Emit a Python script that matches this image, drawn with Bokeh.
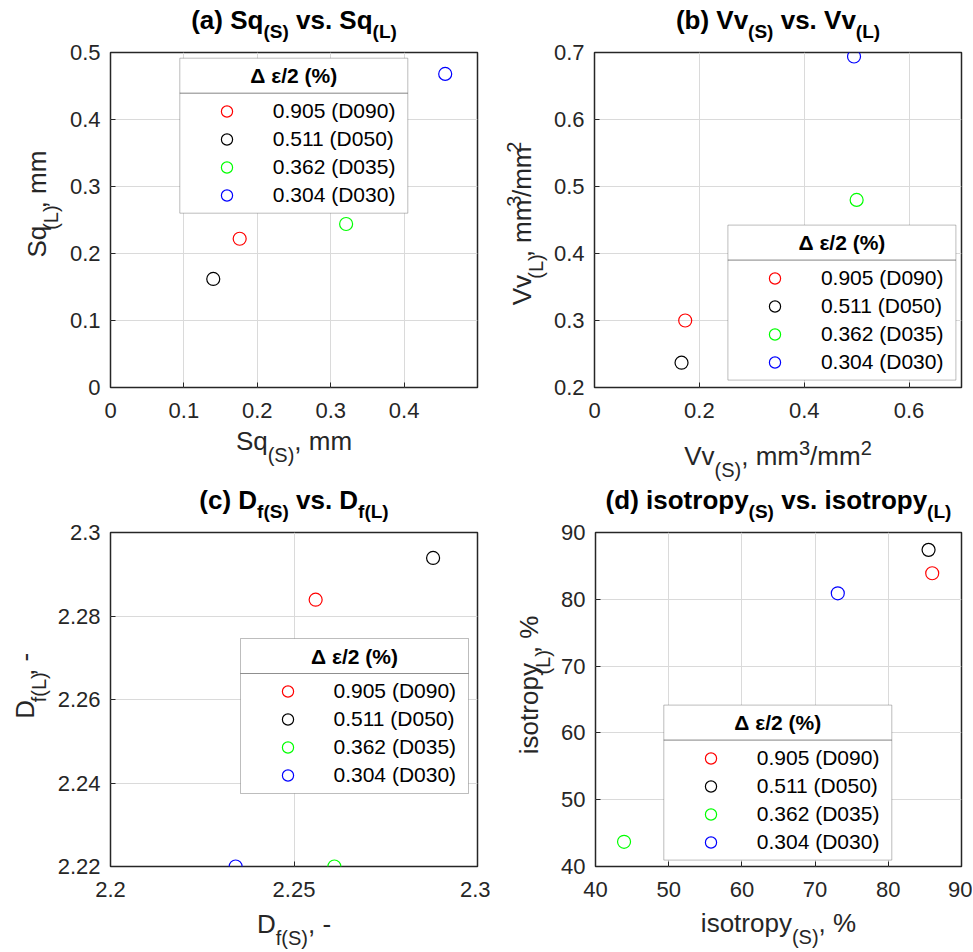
import math
from bokeh.plotting import figure
from bokeh.models import (Range1d, FixedTicker, Label, BoxAnnotation, Legend, LegendItem)
from bokeh.layouts import row, column
from bokeh.embed import file_html
from bokeh.resources import INLINE

# ---------------- data ----------------
series_labels = ["0.905 (D090)", "0.511 (D050)", "0.362 (D035)", "0.304 (D030)"]
series_colors = ["#ff0000", "#000000", "#00ff00", "#0000ff"]
legend_title = "\u0394 \u03b5/2 (%)"

sq_s = [0.176, 0.140, 0.321, 0.456]
sq_l = [0.222, 0.162, 0.244, 0.468]

vv_s = [0.173, 0.166, 0.500, 0.495]
vv_l = [0.300, 0.237, 0.480, 0.694]

df_s = [2.2559, 2.2879, 2.2610, 2.2341]
df_l = [2.2839, 2.2939, 2.2200, 2.2200]

iso_s = [86.0, 85.5, 43.9, 73.1]
iso_l = [83.9, 87.4, 43.7, 80.9]

a_xticks = [0, 0.1, 0.2, 0.3, 0.4]
a_xlabels = ["0", "0.1", "0.2", "0.3", "0.4"]
a_yticks = [0, 0.1, 0.2, 0.3, 0.4, 0.5]
a_ylabels = ["0", "0.1", "0.2", "0.3", "0.4", "0.5"]

b_xticks = [0, 0.2, 0.4, 0.6]
b_xlabels = ["0", "0.2", "0.4", "0.6"]
b_yticks = [0.2, 0.3, 0.4, 0.5, 0.6, 0.7]
b_ylabels = ["0.2", "0.3", "0.4", "0.5", "0.6", "0.7"]

c_xticks = [2.2, 2.25, 2.3]
c_xlabels = ["2.2", "2.25", "2.3"]
c_yticks = [2.22, 2.24, 2.26, 2.28, 2.3]
c_ylabels = ["2.22", "2.24", "2.26", "2.28", "2.3"]

d_xticks = [40, 50, 60, 70, 80, 90]
d_xlabels = ["40", "50", "60", "70", "80", "90"]
d_yticks = [40, 50, 60, 70, 80, 90]
d_ylabels = ["40", "50", "60", "70", "80", "90"]

# rich texts: (text, kind) kind: m = main, b = subscript, p = superscript
a_title = [("(a) Sq", "m"), ("(S)", "b"), (" vs. Sq", "m"), ("(L)", "b")]
a_xtitle = [("Sq", "m"), ("(S)", "b"), (", mm", "m")]
a_ytitle = [("Sq", "m"), ("(L)", "b"), (", mm", "m")]

b_title = [("(b) Vv", "m"), ("(S)", "b"), (" vs. Vv", "m"), ("(L)", "b")]
b_xtitle = [("Vv", "m"), ("(S)", "b"), (", mm", "m"), ("3", "p"), ("/mm", "m"), ("2", "p")]
b_ytitle = [("Vv", "m"), ("(L)", "b"), (", mm", "m"), ("3", "p"), ("/mm", "m"), ("2", "p")]

c_title = [("(c) D", "m"), ("f(S)", "b"), (" vs. D", "m"), ("f(L)", "b")]
c_xtitle = [("D", "m"), ("f(S)", "b"), (", -", "m")]
c_ytitle = [("D", "m"), ("f(L)", "b"), (", -", "m")]

d_title = [("(d) isotropy", "m"), ("(S)", "b"), (" vs. isotropy", "m"), ("(L)", "b")]
d_xtitle = [("isotropy", "m"), ("(S)", "b"), (", %", "m")]
d_ytitle = [("isotropy", "m"), ("(L)", "b"), (", %", "m")]

# ---------------- style ----------------
FONT = "Liberation Sans"
INK = "#262626"
GRID = "#dadada"
TICK_PX = "22px"
LEG_PX = 21
TITLE_MAIN, TITLE_SUB = 26, 19
LAB_MAIN, LAB_SUB = 26, 20
TITLE_DROP, LAB_DROP, SUP_RISE = 9, 12, 10
BASE_FIX = 0.33          # empirical baseline correction (fraction of font size)

REG = {' ': 278, '(': 333, ')': 333, ',': 278, '.': 278, '-': 333, '/': 278, '%': 889,
       'D': 722, 'L': 556, 'S': 667, 'V': 667, 'a': 556, 'b': 556, 'c': 500, 'd': 556,
       'e': 556, 'f': 278, 'i': 222, 'm': 833, 'n': 556, 'o': 556, 'p': 556, 'q': 556,
       'r': 333, 's': 500, 't': 278, 'v': 500, 'y': 500}
BOLD = {' ': 278, '(': 333, ')': 333, ',': 278, '.': 278, '-': 333, '/': 278, '%': 889,
        'D': 722, 'L': 611, 'S': 667, 'V': 667, 'a': 556, 'b': 611, 'c': 556, 'd': 611,
        'e': 556, 'f': 333, 'i': 278, 'm': 889, 'n': 611, 'o': 611, 'p': 611, 'q': 611,
        'r': 389, 's': 556, 't': 333, 'v': 556, 'y': 556}


def text_width(s, size, bold):
    t = BOLD if bold else REG
    return sum(t.get(ch, 556) for ch in s) * size / 1000.0


def strip(w, h):
    """Blank figure whose frame is the whole canvas; data units = pixels (y down)."""
    s = figure(width=w, height=h, output_backend="svg", toolbar_location=None,
               x_range=Range1d(0, w), y_range=Range1d(h, 0),
               min_border_left=0, min_border_right=0, min_border_top=0,
               min_border_bottom=0, x_axis_type=None, y_axis_type=None,
               background_fill_color="white", border_fill_color="white")
    s.outline_line_color = None
    s.grid.visible = False
    return s


def rich(fig, pieces, main, sub, drop, bold, color, cx=None, base_y=None,
         base_x=None, cy=None):
    widths = [text_width(t, main if k == "m" else sub, bold) for t, k in pieces]
    total = sum(widths)
    cum = 0.0
    for (t, k), w in zip(pieces, widths):
        size = main if k == "m" else sub
        lead = text_width(" " * (len(t) - len(t.lstrip(" "))), size, bold)
        shift = (0 if k == "m" else (drop if k == "b" else -SUP_RISE)) - BASE_FIX * size
        if base_x is None:
            px, py, ang = cx - total / 2 + cum + lead, base_y + shift, 0
        else:
            px, py, ang = base_x + shift, cy + total / 2 - cum - lead, math.pi / 2
        fig.add_layout(Label(x=px, y=py, text=t.strip(" "), angle=ang,
                             text_align="left", text_baseline="alphabetic",
                             text_font=FONT, text_font_size=f"{size}px",
                             text_font_style="bold" if bold else "normal",
                             text_color=color))
        cum += w


def make_panel(pw, frame_left, fw, fh, title_h, xlab_h, ylab_w,
               xr, yr, xt, xl, yt, yl, xs, ys, title, xtitle, ytitle,
               xlab_base, ylab_base, ylab_center, box):
    top_b, bot_b = 10, 38
    ph = top_b + fh + bot_b
    p = figure(width=pw - ylab_w, height=ph, output_backend="svg", toolbar_location=None,
               x_range=Range1d(*xr), y_range=Range1d(*yr),
               min_border_left=frame_left - ylab_w, min_border_right=pw - frame_left - fw,
               min_border_top=top_b, min_border_bottom=bot_b,
               background_fill_color="white", border_fill_color="white")
    p.outline_line_color = INK
    p.outline_line_width = 1.5
    p.outline_line_alpha = 1.0

    for ax, ticks, labels, standoff in ((p.xaxis[0], xt, xl, 15), (p.yaxis[0], yt, yl, 10)):
        ax.ticker = FixedTicker(ticks=ticks)
        ax.major_label_overrides = dict(zip(ticks, labels))
        ax.axis_line_color = None
        ax.major_tick_line_color = INK
        ax.major_tick_line_width = 1
        ax.major_tick_in = 5
        ax.major_tick_out = 0
        ax.minor_tick_line_color = None
        ax.major_label_text_font = FONT
        ax.major_label_text_color = INK
        ax.major_label_text_font_size = TICK_PX
        ax.major_label_standoff = standoff

    p.xgrid.ticker = FixedTicker(ticks=xt)
    p.ygrid.ticker = FixedTicker(ticks=yt)
    for g in (p.xgrid, p.ygrid):
        g.grid_line_color = GRID
        g.grid_line_width = 1

    def dx(px):
        return xr[0] + px / fw * (xr[1] - xr[0])

    def dy(py):
        return yr[1] - py / fh * (yr[1] - yr[0])

    renderers = []
    for i in range(len(xs)):
        r = p.scatter(x=[xs[i]], y=[ys[i]], marker="circle", size=13,
                      fill_color=None, line_color=series_colors[i], line_width=1.2)
        renderers.append(r)

    # legend: box, title separator, centred bold title, then bokeh legend items
    bx, by = box
    bw, bh, sep = 228, 155, 35
    p.add_layout(BoxAnnotation(left=dx(bx), right=dx(bx + bw), top=dy(by), bottom=dy(by + bh),
                               fill_color="white", fill_alpha=1.0, line_color=INK,
                               line_width=1, level="underlay"))
    p.add_layout(BoxAnnotation(left=dx(bx), right=dx(bx + bw), top=dy(by + sep),
                               bottom=dy(by + sep), fill_alpha=0, line_color=INK,
                               line_width=1, level="underlay"))
    p.add_layout(Label(x=dx(bx + bw / 2), y=dy(by + sep / 2), text=legend_title,
                       text_align="center", text_baseline="middle", text_font=FONT,
                       text_font_size=f"{LEG_PX}px", text_font_style="bold",
                       text_color="#000000"))
    pad, gw, gh = 5, 33, 28
    leg_h = 2 * pad + 4 * gh
    leg_left = bx + 48 - pad - gw / 2 + 4
    leg_top = by + 53 - pad - gh / 2 - 5
    legend = Legend(items=[LegendItem(label=series_labels[i], renderers=[renderers[i]])
                           for i in range(len(renderers))],
                    location=(leg_left, fh - (leg_top + leg_h)),
                    padding=pad, spacing=0, margin=0,
                    glyph_width=gw, glyph_height=gh, label_height=gh,
                    label_standoff=int(round(94 - 48 - gw / 2)),
                    label_text_font=FONT, label_text_font_size=f"{LEG_PX}px",
                    label_text_color="#000000",
                    border_line_color=None, background_fill_alpha=0)
    p.add_layout(legend)

    t_fig = strip(pw, title_h)
    rich(t_fig, title, TITLE_MAIN, TITLE_SUB, TITLE_DROP, True, "#000000",
         cx=frame_left + fw / 2, base_y=title_h + top_b - 24)
    y_fig = strip(ylab_w, ph)
    rich(y_fig, ytitle, LAB_MAIN, LAB_SUB, LAB_DROP, False, INK,
         base_x=ylab_base, cy=top_b + ylab_center)
    x_fig = strip(pw, xlab_h)
    rich(x_fig, xtitle, LAB_MAIN, LAB_SUB, LAB_DROP, False, INK,
         cx=frame_left + fw / 2, base_y=xlab_base - bot_b)
    return column(t_fig, row(y_fig, p), x_fig)


pa = make_panel(490, 110, 367, 335, 42, 59, 66, (0, 0.5), (0, 0.5),
                a_xticks, a_xlabels, a_yticks, a_ylabels, sq_s, sq_l,
                a_title, a_xtitle, a_ytitle, 62, 45, 167.5, (69.3, 5.7))
pb = make_panel(482, 104, 367, 335, 42, 59, 60, (0, 0.7), (0.2, 0.7),
                b_xticks, b_xlabels, b_yticks, b_ylabels, vv_s, vv_l,
                b_title, b_xtitle, b_ytitle, 76.6, 40, 186.3, (133.4, 172.6))
pc = make_panel(490, 110, 367, 334, 38, 46, 54, (2.2, 2.3), (2.22, 2.3),
                c_xticks, c_xlabels, c_yticks, c_ylabels, df_s, df_l,
                c_title, c_xtitle, c_ytitle, 66, 33.3, 167, (130, 106))
pd_ = make_panel(482, 105, 366, 334, 38, 46, 67, (40, 90), (40, 90),
                 d_xticks, d_xlabels, d_yticks, d_ylabels, iso_s, iso_l,
                 d_title, d_xtitle, d_ytitle, 65, 46.7, 167, (68.3, 172.6))

layout = column(row(pa, pb), row(pc, pd_))
open("out.html", "w").write(file_html(layout, INLINE))
